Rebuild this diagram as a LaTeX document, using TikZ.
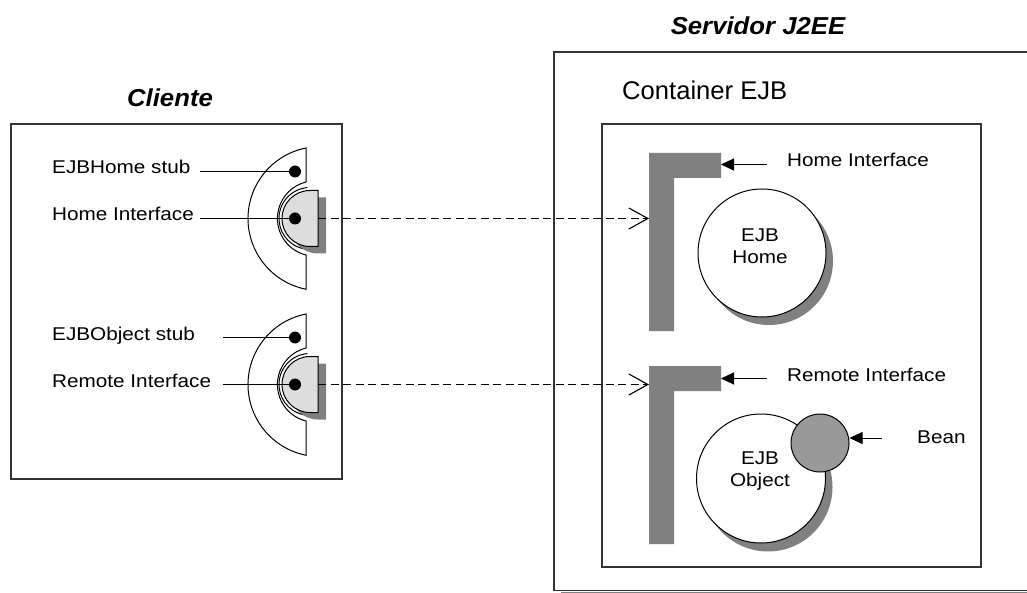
\documentclass[tikz,border=0pt]{standalone}
\usepackage{fontspec}
\setmainfont{Liberation Sans}
\newfontfamily\lblfont[FakeStretch=1.12]{Liberation Sans}
\newfontfamily\ttlfont[FakeStretch=1.05]{Liberation Sans}
\usetikzlibrary{arrows.meta}
\definecolor{bargray}{HTML}{808080}
\definecolor{dfill}{HTML}{DDDDDD}
\definecolor{beangray}{HTML}{999999}
\definecolor{boxline}{HTML}{333333}
\begin{document}
\begin{tikzpicture}[x=1pt,y=-1pt,
  box/.style={draw=boxline,line width=1.3},
  stubline/.style={draw=black,line width=1},
  dotn/.style={circle,fill=black,inner sep=0,minimum size=12},
  lbl/.style={font=\lblfont\fontsize{18.5}{22}\selectfont,inner sep=0,anchor=base west},
  ctext/.style={font=\lblfont\fontsize{18.5}{22}\selectfont,inner sep=0,align=center},
  ttl/.style={font=\ttlfont\fontsize{24.5}{28}\selectfont\bfseries\itshape,inner sep=0},
  bigc/.style={circle,draw=black,line width=1,fill=white,minimum size=128,inner sep=0},
  pointer/.style={line width=1,-{Triangle[length=13pt,width=12pt]}},
  remote/.style={line width=1.5,dash pattern=on 8pt off 4.5pt,-{Straight Barb[length=19pt,width=21pt,line width=1.1]}},
  thinline/.style={line width=1}]
\useasboundingbox (0,0) rectangle (1027,593);
\fill[white] (0,0) rectangle (1027,593);

% titles
\node[ttl] (cl) at (170,97.5) {Cliente};
\node[ttl] (sv) at (758,26) {Servidor J2EE};

% boxes
\draw[box] (11,124) rectangle (342,479);
\draw[bargray,line width=1.6] (561,592.3) -- (1027,592.3);
\draw[box] (1027,52) -- (554,52) -- (554,590.5) -- (1027,590.5);
\draw[box] (602,124) rectangle (981,567);
\node[font=\fontsize{25.6}{30}\selectfont,inner sep=0,anchor=base west] (cont) at (622,100) {Container EJB};

% client stubs
\foreach \dy/\nm in {0/h,166/o}{
\begin{scope}[shift={(0,\dy)}]
  \filldraw[stubline,fill=white] (306,148) arc[start angle=258.8,end angle=101.2,radius=72]
     -- (306,255) arc[start angle=103.9,end angle=256.1,radius=37.6] -- cycle;
  \draw[stubline] (307.3,187.6) arc[start angle=265,end angle=95,radius=31];
  \fill[bargray,shift={(8,7)}] (318,190.5) -- (310,190.5) arc[start angle=270,end angle=90,radius=28] -- (318,246.5) -- cycle;
  \filldraw[stubline,fill=dfill] (318,190.5) -- (310,190.5) arc[start angle=270,end angle=90,radius=28] -- (318,246.5) -- cycle;
  \coordinate (\nm D) at (318,218.5);
\end{scope}}
\node[dotn] (hsdot) at (295,171.5) {};
\node[dotn] (hidot) at (295,218.5) {};
\node[dotn] (osdot) at (295,337.5) {};
\node[dotn] (ridot) at (295,384.5) {};

% left labels
\node[lbl] (hstub) at (52,174) {EJBHome stub};
\node[lbl] (hif) at (52,221) {Home Interface};
\node[lbl] (ostub) at (52,340) {EJBObject stub};
\node[lbl] (rif) at (52,387) {Remote Interface};
\coordinate (hsA) at (200,171.5);
\coordinate (hiA) at (200,218.5);
\coordinate (osA) at (223,337.5);
\coordinate (riA) at (223,384.5);
\draw[thinline] (hsA) -- (hsdot.center);
\draw[thinline] (hiA) -- (hidot.center);
\draw[thinline] (osA) -- (osdot.center);
\draw[thinline] (riA) -- (ridot.center);

% interface bars
\fill[bargray] (649,153) -- (721,153) -- (721,178) -- (674,178) -- (674,331) -- (649,331) -- cycle;
\fill[bargray] (649,366) -- (721,366) -- (721,391) -- (674,391) -- (674,544) -- (649,544) -- cycle;
\coordinate (hbarL) at (649,218.5);
\coordinate (obarL) at (649,384.5);
\coordinate (hbarR) at (721,164.5);
\coordinate (obarR) at (721,378.5);

% remote calls
\draw[remote] (hD) -- (hbarL);
\draw[remote] (oD) -- (obarL);

% EJB circles
\fill[bargray] (769,261) circle[radius=64];
\node[bigc] (home) at (762,253) {};
\fill[bargray] (768,487) circle[radius=64.5];
\node[bigc,minimum size=129] (obj) at (761,478.5) {};
\node[circle,draw=black,line width=1,fill=beangray,minimum size=58,inner sep=0] (beann) at (820,443) {};
\node[ctext] (hometxt) at (760,246) {EJB\\Home};
\node[ctext] (objtxt) at (760,471.5) {EJB\\Object};

% right labels and pointers
\node[lbl] (rhif) at (787,167) {Home Interface};
\node[lbl] (rrif) at (787,381) {Remote Interface};
\node[lbl] (bean) at (917,443) {Bean};
\coordinate (rhA) at (767,164.5);
\coordinate (rrA) at (767,378.5);
\coordinate (bA) at (882,438);
\draw[pointer] (rhA) -- (hbarR);
\draw[pointer] (rrA) -- (obarR);
\draw[pointer] (bA) -- (bA -| beann.east);
\end{tikzpicture}
\end{document}
